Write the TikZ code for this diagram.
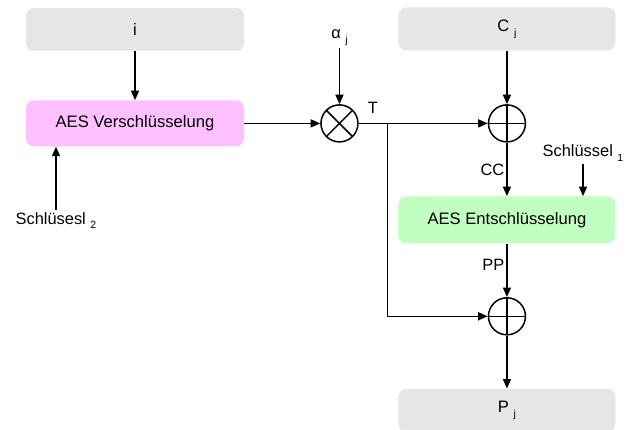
\documentclass[tikz,border=0pt]{standalone}
\usepackage{fontspec}
\setmainfont{Liberation Sans}
\usetikzlibrary{arrows.meta,positioning}
\definecolor{boxgrey}{HTML}{E6E6E6}
\definecolor{encpink}{HTML}{FFC0FF}
\definecolor{decgreen}{HTML}{C0FFC0}
\newcommand{\lowidx}[1]{\raisebox{-5pt}{\fontsize{10.5}{10.5}\selectfont #1}}
\tikzset{
  blk/.style={rectangle, rounded corners=8pt, minimum width=218pt, minimum height=44pt, align=center, font=\fontsize{16.6}{19}\selectfont},
  opc/.style={draw, circle, minimum size=37pt, inner sep=0pt, line width=1.5pt},
  otimes/.style={opc, path picture={\draw[line width=1.5pt] (path picture bounding box.north west) -- (path picture bounding box.south east) (path picture bounding box.north east) -- (path picture bounding box.south west);}},
  oplus/.style={opc, path picture={\draw[line width=1.5pt] (path picture bounding box.north) -- (path picture bounding box.south) (path picture bounding box.west) -- (path picture bounding box.east);}},
  lbl/.style={inner sep=2pt, font=\fontsize{16.4}{19}\selectfont},
  arr/.style={-{Triangle[length=9.5pt,width=8pt]}, line width=1.5pt},
}
\begin{document}
\begin{tikzpicture}
\useasboundingbox (0,0) rectangle (636pt,-430pt);

\node[blk, fill=boxgrey, minimum height=43pt] (i) at (135pt,-29.5pt) {i};
\node[blk, fill=encpink, minimum height=46pt, below=49pt of i] (enc) {AES Verschlüsselung};
\node[otimes, right=76pt of enc] (mult) {};
\node[oplus, right=129pt of mult] (xor1) {};
\node[blk, fill=boxgrey, minimum height=43pt, minimum width=217pt, above=53.5pt of xor1] (cj) {C \lowidx{j}};
\node[blk, fill=decgreen, minimum height=47pt, minimum width=217pt, below=53.5pt of xor1] (dec) {AES Entschlüsselung};
\node[oplus, below=53.5pt of dec] (xor2) {};
\node[blk, fill=boxgrey, minimum height=43pt, minimum width=217pt, below=53pt of xor2] (pj) {P \lowidx{j}};

\node[lbl, above=56pt of mult] (alpha) {α \lowidx{j}};
\node[lbl, anchor=base] (key1) at (583pt,-157pt) {Schlüssel \lowidx{1}};
\node[lbl, anchor=base] (key2) at (56pt,-224pt) {Schlüsesl \lowidx{2}};
\coordinate[right=29pt of mult] (br);

\draw[arr] (i) -- (enc);
\draw[arr] (key2.north) -- (key2.north |- enc.south);
\draw[arr] (enc) -- (mult);
\draw[arr] (alpha) -- (mult);
\draw[arr] (mult) -- node[lbl, above=7pt, pos=0.11] {T} (xor1);
\draw[arr] (cj) -- (xor1);
\draw[arr] (xor1) -- node[lbl, left, pos=0.5] {CC} (dec);
\draw[arr] (key1.south) -- (key1.south |- dec.north);
\draw[arr] (dec) -- node[lbl, left, pos=0.4] {PP} (xor2);
\draw[arr] (br) |- (xor2);
\draw[arr] (xor2) -- (pj);

\end{tikzpicture}
\end{document}
